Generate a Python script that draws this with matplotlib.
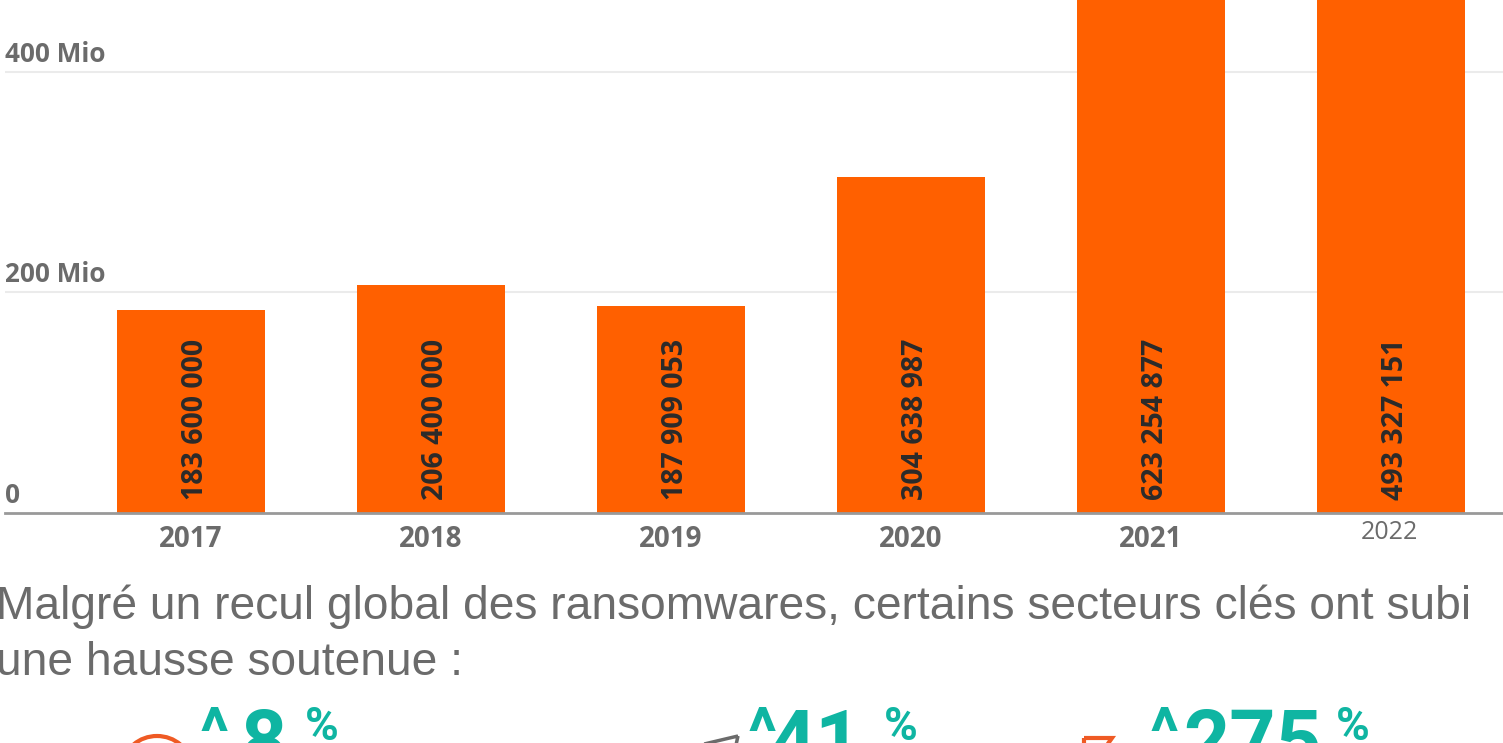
import matplotlib
matplotlib.use("Agg")
import matplotlib.pyplot as plt
from matplotlib.patches import Arc, Polygon

FIG_W = 1503
FIG_H = 743

years = ["2017", "2018", "2019", "2020", "2021", "2022"]
victims = [183600000, 206400000, 187909053, 304638987, 623254877, 493327151]
bar_labels = ["183 600 000", "206 400 000", "187 909 053", "304 638 987", "623 254 877", "493 327 151"]
y_ticks = [0, 200e6, 400e6]
y_tick_labels = ["0", "200 Mio", "400 Mio"]
body_lines = [
    "Malgré un recul global des ransomwares, certains secteurs clés ont subi",
    "une hausse soutenue :",
]
stats = ["8", "41", "275"]

ORANGE = "#ff6000"
GREY = "#6b6b6b"
TEAL = "#0fb5a2"
DIN = "Open Sans"


def fx(px):
    return px / FIG_W


def fy(py):
    return 1 - py / FIG_H


def main():
    fig = plt.figure(figsize=(FIG_W / 100, FIG_H / 100), dpi=100)
    ax = fig.add_axes([fx(5), fy(513), fx(1498), 513 / FIG_H])

    ax.bar(range(len(years)), victims, width=0.617, color=ORANGE, zorder=2)
    ax.set_xlim(-0.775, 5.467)
    ax.set_ylim(0, 465e6)

    ax.set_yticks(y_ticks[1:])
    ax.set_yticklabels([])
    ax.grid(axis="y", color="#ebebeb", linewidth=1.5, zorder=0)
    ax.tick_params(length=0)
    ax.set_xticks([])
    for spine in ["top", "right", "left"]:
        ax.spines[spine].set_visible(False)
    ax.spines["bottom"].set_color("#999999")
    ax.spines["bottom"].set_linewidth(2)

    # y labels sit above the gridlines, inside the plot
    for value, label in zip(y_ticks, y_tick_labels):
        ax.annotate(label, xy=(0, value), xycoords=("axes fraction", "data"),
                    xytext=(0, 3), textcoords="offset points", ha="left", va="bottom",
                    fontsize=18.8, fontweight="bold", family=DIN, color=GREY)

    for i, (year, label) in enumerate(zip(years, bar_labels)):
        ax.annotate(label, xy=(i, 0), xytext=(3.5, 9), textcoords="offset points",
                    ha="center", va="bottom", rotation=90, fontsize=20.5,
                    fontweight="bold", family=DIN, color="#2b2b2b", zorder=3)
        last = year == "2022"
        ax.annotate(year, xy=(i, 0), xytext=(-1, -5) if last else (0, -8.5), textcoords="offset points",
                    ha="center", va="top", fontsize=18 if last else 20,
                    fontweight="normal" if last else "bold", family=DIN, color=GREY,
                    annotation_clip=False)

    fig.text(fx(-4), fy(619), body_lines[0], fontsize=33.2, family="Liberation Sans",
             color=GREY, va="baseline")
    fig.text(fx(-4), fy(675), body_lines[1], fontsize=33.2, family="Liberation Sans",
             color=GREY, va="baseline")

    # big percentages are cut by the lower edge of the picture
    for x in [200, 748, 1150]:
        fig.text(fx(x), fy(755), "^", fontsize=48, fontweight="bold", family="Roboto", color=TEAL, va="baseline")
    for x, text in zip([240, 770, 1183], stats):
        fig.text(fx(x), fy(768), text, fontsize=58, fontweight="bold", family="Roboto", color=TEAL, va="baseline")
    for x in [305, 884, 1336]:
        fig.text(fx(x), fy(740), "%", fontsize=33, fontweight="bold", family="Roboto", color=TEAL, va="baseline")

    # icons, only their tops are visible
    ov = fig.add_axes([0, 0, 1, 1], facecolor="none")
    ov.set_xlim(0, FIG_W)
    ov.set_ylim(FIG_H, 0)
    ov.axis("off")
    ov.add_patch(Arc((157, 765), 66, 58, theta1=180, theta2=360, color="#ef5a24", linewidth=3))
    ov.add_patch(Polygon([[738, 736], [700, 745], [736, 745]], closed=True, facecolor="none",
                         edgecolor=GREY, linewidth=2.5))
    ov.add_patch(Polygon([[1084, 738], [1112, 738], [1107, 745], [1084, 745]], closed=True,
                         facecolor="none", edgecolor="#ef5a24", linewidth=3))

    fig.savefig("out.png", dpi=100)
    plt.close(fig)


if __name__ == "__main__":
    main()
